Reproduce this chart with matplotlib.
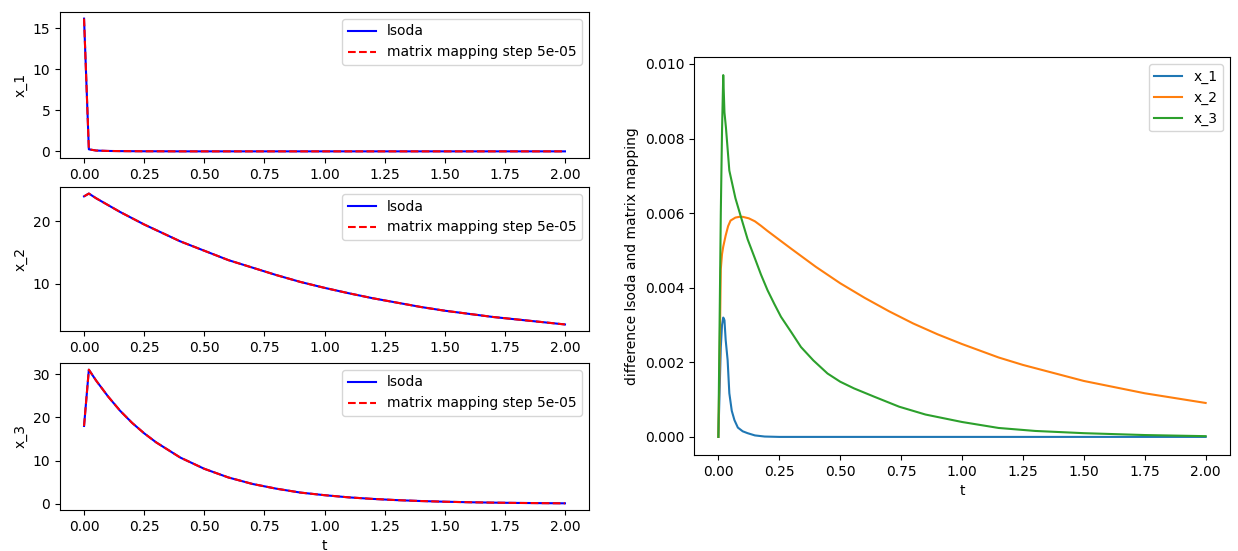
import numpy as np
import matplotlib.pyplot as plt

# time grid used for the solution curves
t_sol = [0.0, 0.02, 0.05, 0.1, 0.15, 0.2, 0.25, 0.3, 0.4, 0.5, 0.6, 0.7, 0.8,
         0.9, 1.0, 1.1, 1.2, 1.3, 1.4, 1.5, 1.6, 1.7, 1.8, 1.9, 2.0]

x1_vals = [16.2, 0.25, 0.1, 0.05, 0.03, 0.02, 0.01, 0.01, 0.0, 0.0, 0.0, 0.0, 0.0,
           0.0, 0.0, 0.0, 0.0, 0.0, 0.0, 0.0, 0.0, 0.0, 0.0, 0.0, 0.0]
x2_vals = [24.0, 24.45, 23.7, 22.6, 21.5, 20.5, 19.5, 18.6, 16.8, 15.3, 13.8, 12.6, 11.4,
           10.3, 9.36, 8.5, 7.7, 7.0, 6.3, 5.7, 5.2, 4.7, 4.3, 3.9, 3.5]
x3_vals = [18.0, 31.0, 28.5, 24.8, 21.5, 18.7, 16.3, 14.2, 10.7, 8.1, 6.1, 4.6, 3.5,
           2.6, 2.0, 1.5, 1.14, 0.86, 0.65, 0.49, 0.37, 0.28, 0.21, 0.16, 0.12]
yticks_sol = [[0, 5, 10, 15], [10, 20], [0, 10, 20, 30]]

# absolute difference between lsoda and matrix mapping, one time grid per state
t_d1 = [0.0, 0.005, 0.01, 0.015, 0.02, 0.025, 0.03, 0.038, 0.045, 0.055, 0.066, 0.08,
        0.1, 0.12, 0.15, 0.19, 0.25, 0.5, 1.0, 1.5, 2.0]
d1_vals = [0.0, 0.0012, 0.0024, 0.0030, 0.0032, 0.00313, 0.0026, 0.00206, 0.00117,
           0.0007, 0.00045, 0.00025, 0.00015, 0.0001, 0.00004, 0.00001, 0.0, 0.0, 0.0,
           0.0, 0.0]

t_d2 = [0.0, 0.005, 0.01, 0.015, 0.02, 0.03, 0.04, 0.05, 0.07, 0.086, 0.1, 0.125, 0.15,
        0.175, 0.2, 0.257, 0.3, 0.35, 0.4, 0.45, 0.5, 0.6, 0.7, 0.8, 0.9, 1.0,
        1.15, 1.25, 1.5, 1.75, 2.0]
d2_vals = [0.0, 0.0020, 0.0045, 0.0049, 0.0051, 0.0054, 0.00565, 0.0058, 0.00588, 0.0059,
           0.0059, 0.00586, 0.00578, 0.00566, 0.00553, 0.00525, 0.00504, 0.0048, 0.00456,
           0.00434, 0.00412, 0.00373, 0.00337, 0.00304, 0.00275, 0.00249, 0.00213,
           0.00193, 0.0015, 0.00117, 0.00091]

t_d3 = [0.0, 0.005, 0.01, 0.015, 0.02, 0.025, 0.031, 0.045, 0.07, 0.093, 0.12, 0.148,
        0.175, 0.202, 0.23, 0.257, 0.3, 0.339, 0.39, 0.448, 0.5, 0.557, 0.639, 0.742,
        0.85, 1.0, 1.15, 1.3, 1.5, 1.75, 2.0]
d3_vals = [0.0, 0.0030, 0.0060, 0.0082, 0.0097, 0.0087, 0.0083, 0.00714, 0.0064, 0.00589,
           0.0053, 0.00482, 0.00435, 0.00393, 0.00356, 0.00322, 0.0028, 0.00241, 0.00205,
           0.0017, 0.00148, 0.0013, 0.00108, 0.00081, 0.0006, 0.0004, 0.00024, 0.00016,
           0.0001, 0.00005, 0.00002]

W, H = 1238, 551
fig = plt.figure(figsize=(W / 100, H / 100), dpi=100)
plt.rcParams['font.size'] = 10


def px_axes(left, top, right, bottom):
    return fig.add_axes([left / W, 1 - bottom / H, (right - left) / W, (bottom - top) / H])


# left column: solutions
boxes = [(60, 12, 589, 158), (60, 187, 589, 331), (60, 363, 589, 510)]
series = [("x_1", x1_vals), ("x_2", x2_vals), ("x_3", x3_vals)]
for (l, t, r, b), (name, vals), yt in zip(boxes, series, yticks_sol):
    ax = px_axes(l, t, r, b)
    ax.plot(t_sol, vals, color="b", label="lsoda")
    ax.plot(t_sol, vals, "r--", label="matrix mapping step 5e-05")
    ax.set_ylabel(name)
    ax.set_xticks(np.arange(0, 2.01, 0.25))
    ax.set_yticks(yt)
    ax.legend(loc="upper right")
ax.set_xlabel("t")

# right: differences
axd = px_axes(694, 57, 1230, 455)
axd.plot(t_d1, d1_vals, label="x_1")
axd.plot(t_d2, d2_vals, label="x_2")
axd.plot(t_d3, d3_vals, label="x_3")
axd.set_xticks(np.arange(0, 2.01, 0.25))
axd.set_xlabel("t")
axd.set_ylabel("difference lsoda and matrix mapping")
axd.legend(loc="upper right")

fig.savefig("out.png", dpi=100)
